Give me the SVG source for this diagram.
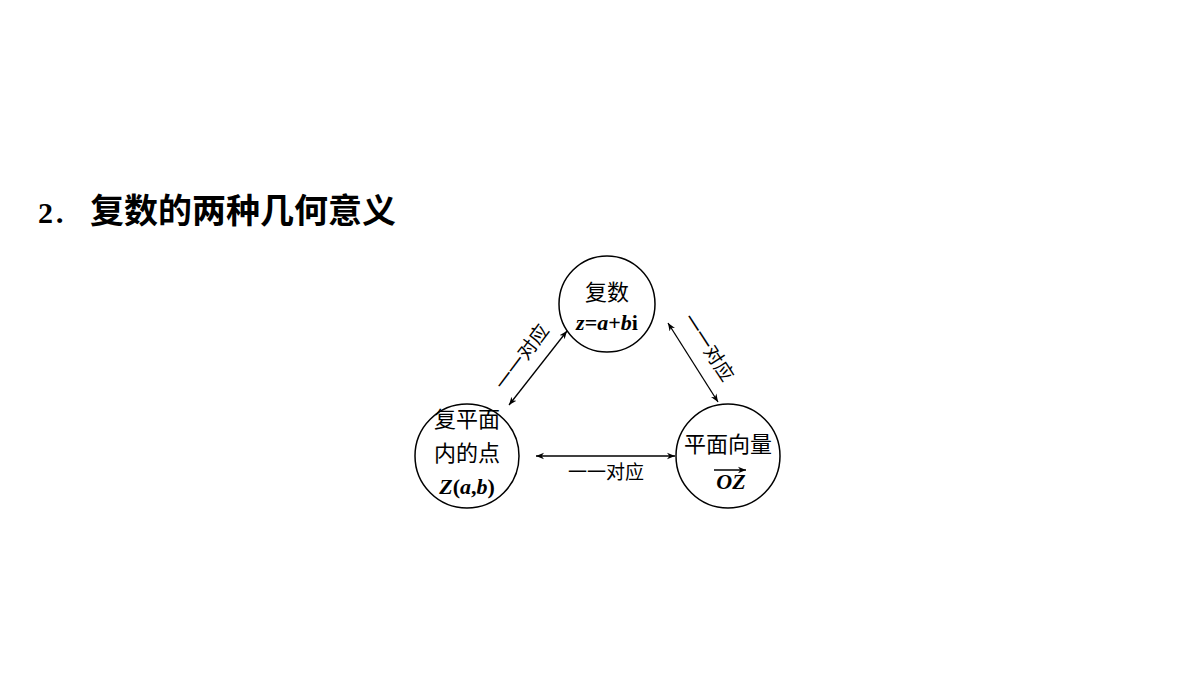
<svg xmlns="http://www.w3.org/2000/svg" width="1200" height="675" viewBox="0 0 1200 675">
<defs>
<marker id="ah" viewBox="0 0 10 10" refX="10" refY="5" markerWidth="8" markerHeight="8" orient="auto-start-reverse" markerUnits="userSpaceOnUse"><path d="M0,1 L10,5 L0,9 L3,5 Z" fill="#000"/></marker>
<style>
.c{fill:#fff;stroke:#000;stroke-width:1.5}
.t{font-family:"Liberation Serif","Noto Sans CJK SC",serif;font-size:22px;fill:#000;text-anchor:middle}
.l{font-family:"Liberation Serif","Noto Sans CJK SC",serif;font-size:19px;fill:#000;text-anchor:middle}
.e{stroke:#000;stroke-width:1.3;fill:none;marker-start:url(#ah);marker-end:url(#ah)}
</style>
</defs>
<rect width="1200" height="675" fill="#fff"/>
<text x="38" y="223" font-family="Liberation Serif,'Noto Sans CJK SC',serif" font-size="30" font-weight="bold">2<tspan font-size="24">．</tspan><tspan x="90" font-size="34">复数的两种几何意义</tspan></text>
<g id="connectors">
<line class="e" x1="509" y1="405" x2="567" y2="331"/>
<line class="e" x1="668" y1="323" x2="718" y2="402"/>
<line class="e" x1="536" y1="456" x2="675" y2="456"/>
<text class="l" transform="translate(527,361) rotate(-53)">一一对应</text>
<text class="l" transform="translate(703,351) rotate(57)">一一对应</text>
<text class="l" x="606" y="479">一一对应</text>
</g>
<g id="n1"><circle class="c" cx="607" cy="304" r="48"/>
<text class="t" x="607" y="300">复数</text>
<text class="t" x="607" y="330" font-size="19" font-weight="bold"><tspan font-style="italic">z</tspan>=<tspan font-style="italic">a</tspan>+<tspan font-style="italic">b</tspan>i</text></g>
<g id="n2"><circle class="c" cx="467" cy="456" r="52"/>
<text class="t" x="467" y="427">复平面</text>
<text class="t" x="467" y="461">内的点</text>
<text class="t" x="467" y="494" font-weight="bold"><tspan font-style="italic">Z</tspan>(<tspan font-style="italic">a</tspan>,<tspan font-style="italic">b</tspan>)</text></g>
<g id="n3"><circle class="c" cx="728" cy="456" r="52"/>
<text class="t" x="728" y="452">平面向量</text>
<text class="t" x="731" y="489" font-weight="bold" font-style="italic">OZ</text>
<line x1="714" y1="470" x2="746" y2="470" stroke="#000" stroke-width="1.5" marker-end="url(#ah)"/></g>
</svg>
